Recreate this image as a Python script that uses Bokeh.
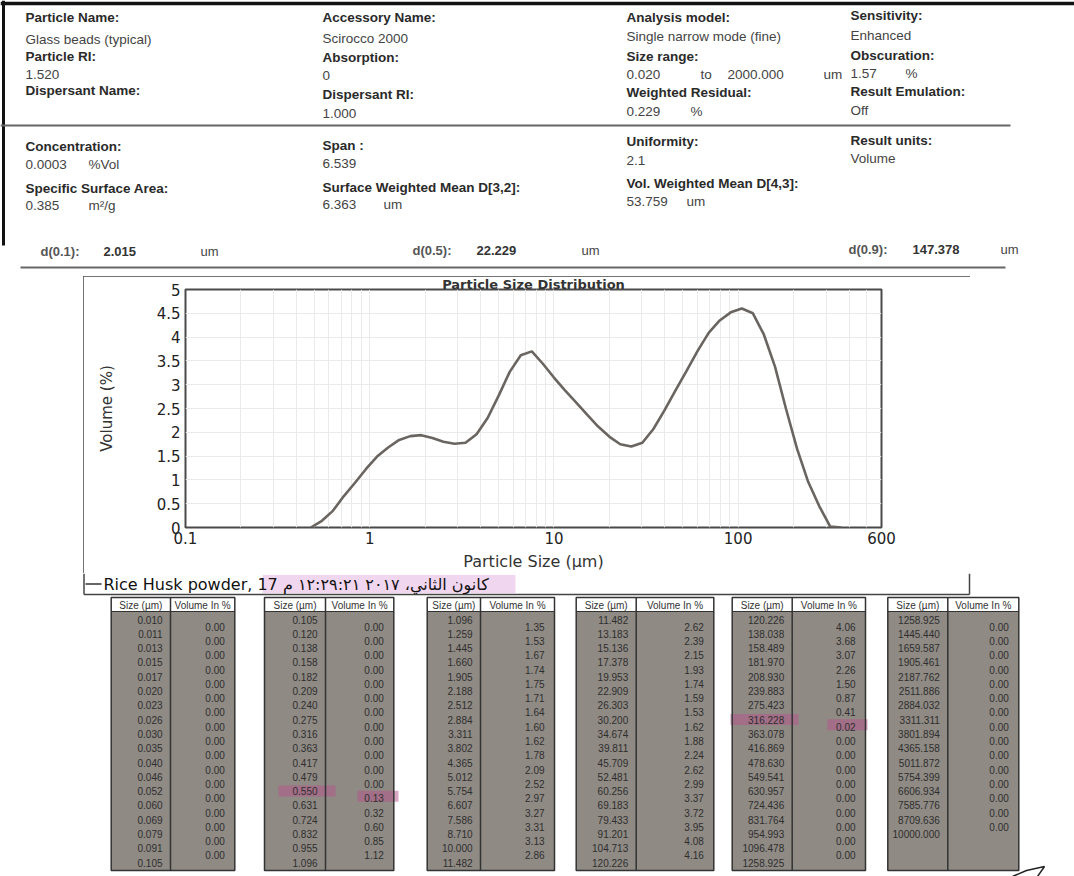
from bokeh.plotting import figure
from bokeh.layouts import column, row
from bokeh.models import Range1d, FixedTicker, CustomJSTickFormatter, Spacer
from bokeh.core.properties import value
from bokeh.embed import file_html
from bokeh.resources import INLINE

# ---------------- data ----------------
# curve: particle size (um) vs volume density (%)
curve_size = [0.479, 0.550, 0.631, 0.724, 0.832, 0.955, 1.096, 1.259, 1.445, 1.660,
              1.905, 2.188, 2.512, 2.884, 3.311, 3.802, 4.365, 5.012, 5.754, 6.607,
              7.586, 8.710, 10.000, 11.482, 13.183, 15.136, 17.378, 19.953, 22.909, 26.303,
              30.200, 34.674, 39.811, 45.709, 52.481, 60.256, 69.183, 79.433, 91.201, 104.713,
              120.226, 138.038, 158.489, 181.970, 208.930, 239.883, 275.423, 316.228, 363.078]
curve_volume = [0.00, 0.14, 0.35, 0.66, 0.94, 1.23, 1.49, 1.68, 1.84, 1.92,
                1.94, 1.88, 1.80, 1.76, 1.78, 1.96, 2.30, 2.77, 3.27, 3.62,
                3.70, 3.44, 3.15, 2.88, 2.63, 2.37, 2.12, 1.91, 1.75, 1.70,
                1.78, 2.07, 2.46, 2.88, 3.29, 3.71, 4.09, 4.35, 4.52, 4.60,
                4.50, 4.05, 3.38, 2.49, 1.65, 0.96, 0.45, 0.02, 0.00]

y_ticks = [0, 0.5, 1, 1.5, 2, 2.5, 3, 3.5, 4, 4.5, 5]
x_ticks = [0.1, 1, 10, 100, 600]

# result tables
table_sizes = [
    [0.010, 0.011, 0.013, 0.015, 0.017, 0.020, 0.023, 0.026, 0.030, 0.035, 0.040, 0.046, 0.052, 0.060, 0.069, 0.079, 0.091, 0.105],
    [0.105, 0.120, 0.138, 0.158, 0.182, 0.209, 0.240, 0.275, 0.316, 0.363, 0.417, 0.479, 0.550, 0.631, 0.724, 0.832, 0.955, 1.096],
    [1.096, 1.259, 1.445, 1.660, 1.905, 2.188, 2.512, 2.884, 3.311, 3.802, 4.365, 5.012, 5.754, 6.607, 7.586, 8.710, 10.000, 11.482],
    [11.482, 13.183, 15.136, 17.378, 19.953, 22.909, 26.303, 30.200, 34.674, 39.811, 45.709, 52.481, 60.256, 69.183, 79.433, 91.201, 104.713, 120.226],
    [120.226, 138.038, 158.489, 181.970, 208.930, 239.883, 275.423, 316.228, 363.078, 416.869, 478.630, 549.541, 630.957, 724.436, 831.764, 954.993, 1096.478, 1258.925],
    [1258.925, 1445.440, 1659.587, 1905.461, 2187.762, 2511.886, 2884.032, 3311.311, 3801.894, 4365.158, 5011.872, 5754.399, 6606.934, 7585.776, 8709.636, 10000.000],
]
table_volumes = [
    [0.00] * 17,
    [0.00, 0.00, 0.00, 0.00, 0.00, 0.00, 0.00, 0.00, 0.00, 0.00, 0.00, 0.00, 0.13, 0.32, 0.60, 0.85, 1.12],
    [1.35, 1.53, 1.67, 1.74, 1.75, 1.71, 1.64, 1.60, 1.62, 1.78, 2.09, 2.52, 2.97, 3.27, 3.31, 3.13, 2.86],
    [2.62, 2.39, 2.15, 1.93, 1.74, 1.59, 1.53, 1.62, 1.88, 2.24, 2.62, 2.99, 3.37, 3.72, 3.95, 4.08, 4.16],
    [4.06, 3.68, 3.07, 2.26, 1.50, 0.87, 0.41, 0.02, 0.00, 0.00, 0.00, 0.00, 0.00, 0.00, 0.00, 0.00, 0.00],
    [0.00] * 15,
]

C2, C3, C4 = 322, 626, 850
header_bold = [
    (25, 17, "Particle Name:"), (C2, 17, "Accessory Name:"), (C3, 17, "Analysis model:"), (C4, 15, "Sensitivity:"),
    (25, 56, "Particle RI:"), (C2, 57, "Absorption:"), (C3, 56, "Size range:"), (C4, 55, "Obscuration:"),
    (25, 90, "Dispersant Name:"), (C2, 94, "Dispersant RI:"), (C3, 92, "Weighted Residual:"), (C4, 91, "Result Emulation:"),
    (25, 146, "Concentration:"), (C2, 145, "Span :"), (C3, 141, "Uniformity:"), (C4, 140, "Result units:"),
    (25, 188, "Specific Surface Area:"), (C2, 187, "Surface Weighted Mean D[3,2]:"), (C3, 183, "Vol. Weighted Mean D[4,3]:"),
]
header_regular = [
    (25, 39, "Glass beads (typical)"), (C2, 38, "Scirocco 2000"), (C3, 36, "Single narrow mode (fine)"), (C4, 35, "Enhanced"),
    (25, 74, "1.520"), (C2, 75, "0"), (C3, 74, "0.020"), (700, 74, "to"), (727, 74, "2000.000"), (823, 74, "um"),
    (C4, 73, "1.57"), (905, 73, "%"),
    (C2, 113, "1.000"), (C3, 111, "0.229"), (690, 111, "%"), (C4, 110, "Off"),
    (25, 164, "0.0003"), (88, 164, "%Vol"), (C2, 163, "6.539"), (C3, 160, "2.1"), (C4, 158, "Volume"),
    (25, 205, "0.385"), (88, 205, "m²/g"), (C2, 204, "6.363"), (383, 204, "um"), (C3, 201, "53.759"), (686, 201, "um"),
]
d_labels = [(40, 251, "d(0.1):"), (412, 250, "d(0.5):"), (848, 249, "d(0.9):")]
d_values = [(103, 251, "2.015"), (476, 250, "22.229"), (912, 249, "147.378")]
d_units = [(200, 251, "um"), (581, 250, "um"), (1000, 249, "um")]

legend_text = "Rice Husk powder, 17 كانون الثاني، ٢٠١٧ ١٢:٢٩:٢١ م"

ARIAL = value("Liberation Sans")
VERD = value("DejaVu Sans")


def blank(width, height, x0, x1, y0, y1):
    f = figure(width=width, height=height, x_range=Range1d(x0, x1), y_range=Range1d(y1, y0),
               output_backend="svg", toolbar_location=None, min_border=0,
               x_axis_location=None, y_axis_location=None)
    f.xgrid.visible = False
    f.ygrid.visible = False
    f.outline_line_color = None
    f.background_fill_color = "white"
    f.border_fill_color = "white"
    return f


def put(f, items, **kw):
    f.text(x=[i[0] for i in items], y=[i[1] for i in items], text=[i[2] for i in items],
           text_baseline="middle", text_align="left", **kw)


# ---------------- header (page y 0..276) ----------------
hdr = blank(1074, 276, 0, 1074, 0, 276)
hdr.segment(x0=[0, 3, 0, 20], y0=[3, 0, 125, 267], x1=[1074, 3, 1010, 1005], y1=[3, 245, 125, 267],
            line_color=["#111", "#111", "#666", "#666"], line_width=[3.5, 3, 2, 2])
put(hdr, header_bold, text_font=ARIAL, text_font_style="bold", text_font_size="13.5px", text_color="#2a2a2a")
put(hdr, header_regular, text_font=ARIAL, text_font_size="13.5px", text_color="#444444")
put(hdr, d_labels, text_font=ARIAL, text_font_style="bold", text_font_size="13px", text_color="#555555")
put(hdr, d_values, text_font=ARIAL, text_font_style="bold", text_font_size="13px", text_color="#333333")
put(hdr, d_units, text_font=ARIAL, text_font_size="13px", text_color="#444444")

# ---------------- chart (page y 276..573, x 83..970) ----------------
p = figure(width=887, height=297, x_axis_type="log", x_range=Range1d(0.1, 600), y_range=Range1d(0, 5),
           output_backend="svg", toolbar_location=None,
           min_border_left=102, min_border_right=89, min_border_top=0, min_border_bottom=46,
           title="Particle Size Distribution",
           styles={"outline": "1.5px solid #444", "outline-offset": "-1.5px"})
p.title.align = "center"
p.title.text_font = "DejaVu Sans"
p.title.text_font_size = "13px"
p.title.text_font_style = "bold"
p.title.text_color = "#333"
p.title.standoff = -4
p.title.offset = 0
p.line(curve_size, curve_volume, line_color="#6a6560", line_width=2.6)
p.outline_line_color = "#4a4a4a"
p.outline_line_width = 2
p.background_fill_color = "white"

grid_x = [k * 10.0 ** e for e in range(-1, 3) for k in range(1, 10) if 0.1 <= k * 10.0 ** e <= 600]
p.xgrid.ticker = FixedTicker(ticks=grid_x)
p.ygrid.ticker = FixedTicker(ticks=y_ticks)
p.xgrid.grid_line_color = "#eaeaea"
p.ygrid.grid_line_color = "#eaeaea"

p.xaxis.ticker = FixedTicker(ticks=x_ticks)
p.yaxis.ticker = FixedTicker(ticks=y_ticks)
p.xaxis.formatter = CustomJSTickFormatter(code="return tick.toString()")
p.yaxis.formatter = CustomJSTickFormatter(code="return tick.toString()")
for ax in (p.xaxis[0], p.yaxis[0]):
    ax.axis_line_color = None
    ax.major_tick_line_color = None
    ax.minor_tick_line_color = None
    ax.major_tick_out = 0
    ax.major_tick_in = 0
    ax.minor_tick_out = 0
    ax.major_label_text_font = "DejaVu Sans"
    ax.major_label_text_font_size = "15px"
    ax.major_label_text_color = "#222"
    ax.axis_label_text_font = "DejaVu Sans"
    ax.axis_label_text_font_size = "15px"
    ax.axis_label_text_font_style = "normal"
    ax.axis_label_text_color = "#333"
p.xaxis.axis_label = "Particle Size (µm)"
p.xaxis.axis_label_text_font_size = "16px"
p.yaxis.axis_label = "Volume (%)"
p.xaxis.major_label_standoff = 4
p.xaxis.axis_label_standoff = 5
p.yaxis.major_label_standoff = 5
p.yaxis.axis_label_standoff = 38

# ---------------- tables + legend strip (page y 573..876) ----------------
tbl = blank(1074, 303, 0, 1074, 573, 876)

# legend strip
tbl.quad(left=[262], right=[515], top=[574.5], bottom=[592.5], fill_color="#f1d6ef", line_color=None)
tbl.segment(x0=[83.5, 969, 83.5], y0=[573, 573, 594], x1=[83.5, 969, 969], y1=[594, 594, 594],
            line_color="#444", line_width=1.5)
tbl.segment(x0=[85], y0=[583.5], x1=[101], y1=[583.5], line_color="#333", line_width=1.5)
tbl.text(x=[103], y=[584], text=[legend_text], text_font=VERD, text_font_size="16px",
         text_baseline="middle", text_color="#111")

lefts = [110.7, 264, 426.7, 575.7, 731.7, 887.3]
divs = [170, 325, 480, 635.7, 791.7, 947.3]
rights = [234.3, 393.3, 554, 713.3, 865, 1018.3]
top, head_bot, bot = 597, 611, 870
y_first, step = 619, 14.3

tbl.quad(left=lefts, right=rights, top=[head_bot] * 6, bottom=[bot] * 6, fill_color="#8f8a84", line_color=None)
tbl.quad(left=lefts, right=rights, top=[top] * 6, bottom=[head_bot] * 6, fill_color="white", line_color=None)

# highlighter marks: (table, row, is_volume_cell, left, right)
hl_marks = [(1, 12, False, 278, 335), (1, 12, True, 357, 398),
            (4, 7, False, 730, 798), (4, 7, True, 827, 867)]
hl_l, hl_r, hl_t, hl_b = [], [], [], []
for t, r, is_vol, x0, x1 in hl_marks:
    yc = y_first + r * step + (step / 2 - 2 if is_vol else 0)
    hl_l.append(x0)
    hl_r.append(x1)
    hl_t.append(yc - 5.5)
    hl_b.append(yc + 5.5)
tbl.quad(left=hl_l, right=hl_r, top=hl_t, bottom=hl_b, fill_color="#b8528a", fill_alpha=0.5, line_color=None)

tbl.quad(left=lefts, right=rights, top=[top] * 6, bottom=[bot] * 6, fill_color=None, line_color="#333", line_width=1.5)
tbl.segment(x0=divs, y0=[top] * 6, x1=divs, y1=[bot] * 6, line_color="#333", line_width=1.5)
tbl.segment(x0=lefts, y0=[head_bot] * 6, x1=rights, y1=[head_bot] * 6, line_color="#333", line_width=1.2)

hx, hy, ht = [], [], []
sx, sy, st = [], [], []
vx, vy, vt = [], [], []
for t in range(6):
    hx += [(lefts[t] + divs[t]) / 2, (divs[t] + rights[t]) / 2]
    hy += [604.5, 604.5]
    ht += ["Size (µm)", "Volume In %"]
    for i, s in enumerate(table_sizes[t]):
        sx.append(divs[t] - 8)
        sy.append(y_first + i * step)
        st.append(f"{s:.3f}")
    for i, v in enumerate(table_volumes[t]):
        vx.append(rights[t] - 10)
        vy.append(y_first + step / 2 + i * step)
        vt.append(f"{v:.2f}")
tbl.text(x=hx, y=hy, text=ht, text_align="center", text_baseline="middle", text_font=ARIAL,
         text_font_size="10px", text_color="#333")
tbl.text(x=sx, y=sy, text=st, text_align="right", text_baseline="middle", text_font=ARIAL,
         text_font_size="10px", text_color="#2e2e2e")
tbl.text(x=vx, y=vy, text=vt, text_align="right", text_baseline="middle", text_font=ARIAL,
         text_font_size="10px", text_color="#2e2e2e")

# pen stroke (signature) at bottom right
tbl.line(x=[1012, 1026, 1044, 1037], y=[876, 870, 866, 876], line_color="#222", line_width=1.5)

layout = column(hdr,
                row(Spacer(width=83, height=297), p, Spacer(width=104, height=297)),
                tbl)

open("out.html", "w").write(file_html(layout, INLINE))
